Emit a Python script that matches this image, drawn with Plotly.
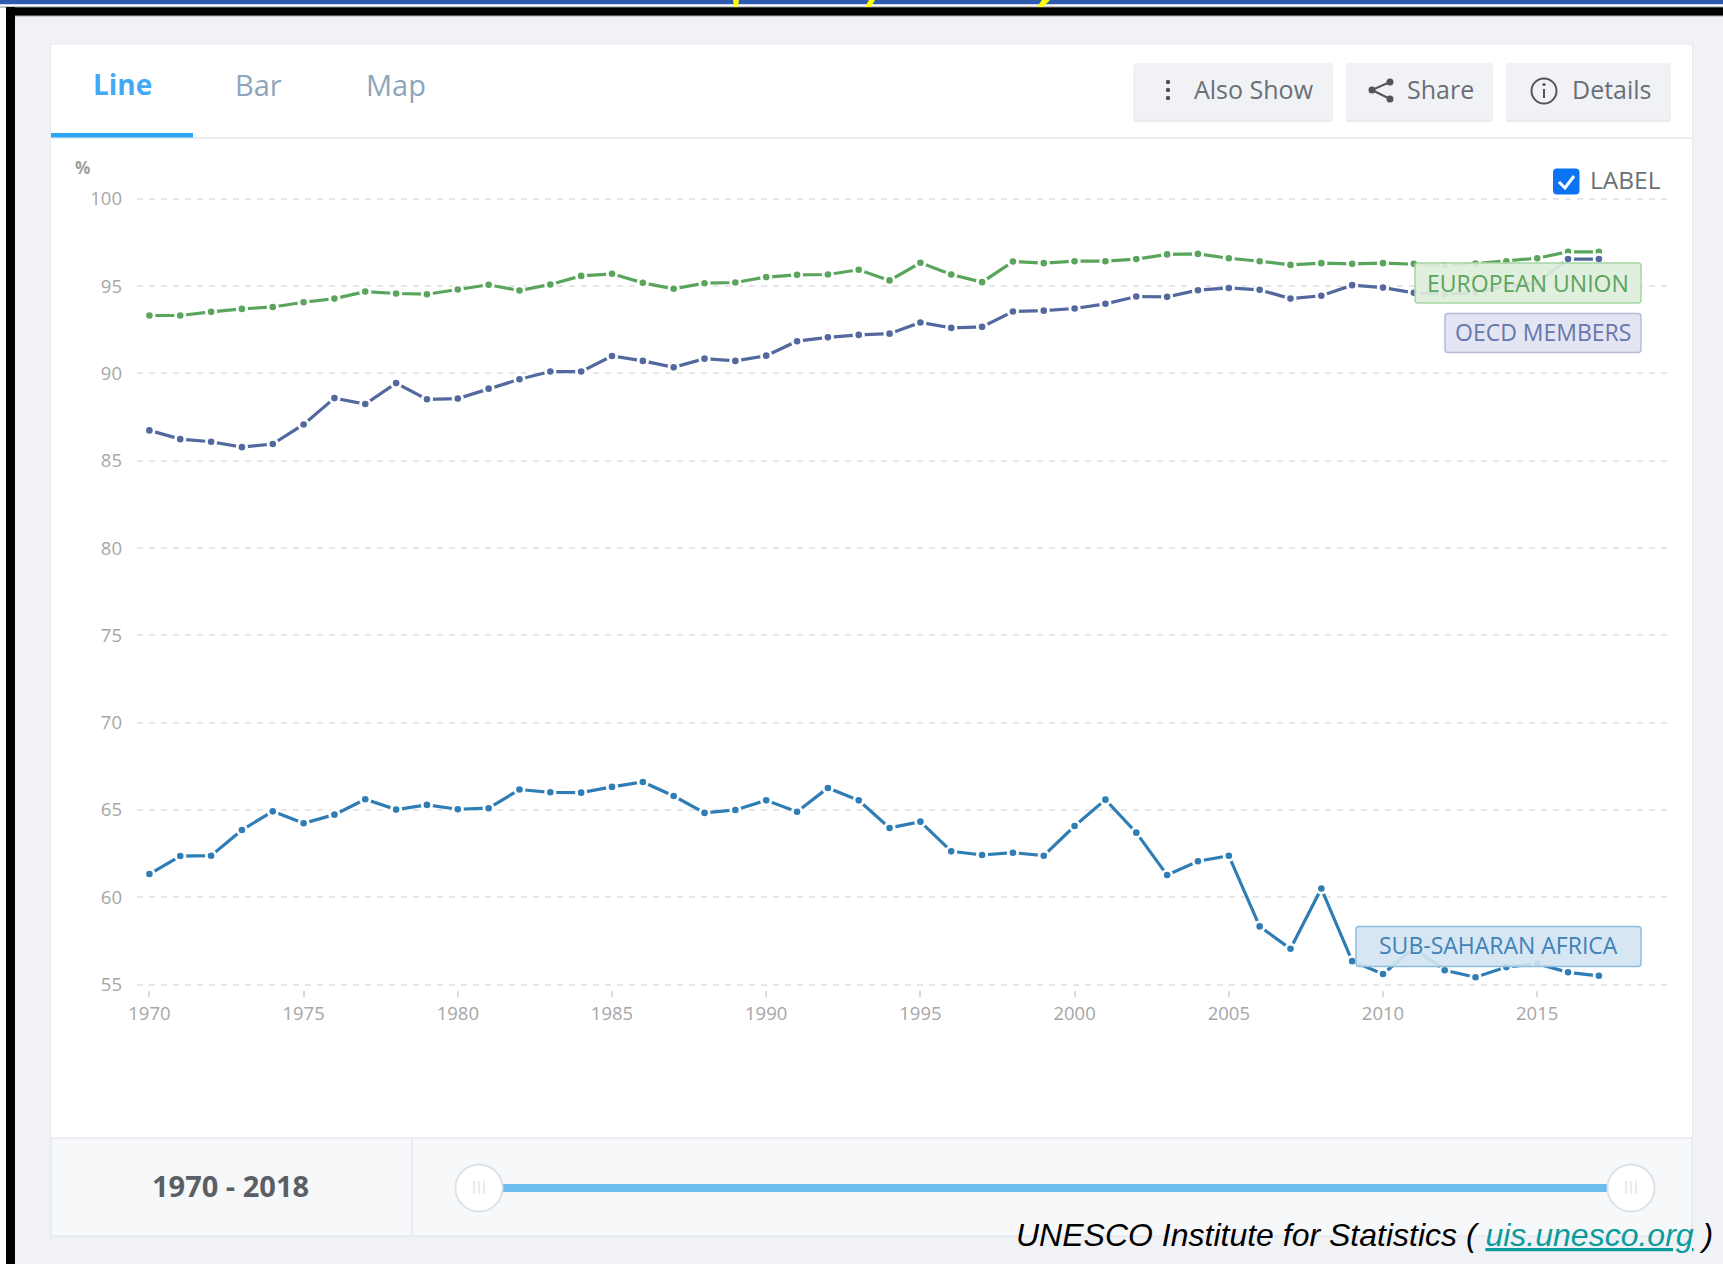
import plotly.graph_objects as go

W, H = 1723, 1264

years = list(range(1970, 2018))
european_union = [93.32, 93.32, 93.53, 93.70, 93.81, 94.08, 94.29, 94.69, 94.58, 94.54, 94.81, 95.08,
                  94.75, 95.10, 95.59, 95.71, 95.19, 94.85, 95.17, 95.21, 95.52, 95.65, 95.67, 95.94,
                  95.33, 96.34, 95.67, 95.23, 96.41, 96.32, 96.43, 96.43, 96.55, 96.82, 96.85, 96.60,
                  96.43, 96.22, 96.32, 96.28, 96.32, 96.28, 96.20, 96.30, 96.43, 96.60, 96.97, 96.97]
oecd_members = [86.74, 86.24, 86.09, 85.78, 85.96, 87.08, 88.59, 88.25, 89.45, 88.52, 88.56, 89.13,
                89.67, 90.11, 90.11, 91.00, 90.72, 90.35, 90.85, 90.72, 91.02, 91.85, 92.07, 92.21,
                92.28, 92.92, 92.61, 92.67, 93.55, 93.60, 93.72, 93.99, 94.41, 94.39, 94.77, 94.90,
                94.79, 94.29, 94.45, 95.06, 94.92, 94.62, 94.54, 94.62, 95.00, 95.19, 96.55, 96.55]
sub_saharan_africa = [61.33, 62.36, 62.38, 63.85, 64.92, 64.24, 64.73, 65.61, 65.02, 65.29, 65.04, 65.10,
                      66.17, 66.01, 65.99, 66.32, 66.60, 65.80, 64.83, 65.00, 65.55, 64.90, 66.26, 65.55,
                      63.97, 64.33, 62.63, 62.42, 62.55, 62.38, 64.08, 65.59, 63.70, 61.27, 62.06, 62.38,
                      58.33, 57.05, 60.50, 56.34, 55.60, 57.10, 55.82, 55.42, 56.00, 56.20, 55.70, 55.50]
x_ticks = list(range(1970, 2016, 5))
y_ticks = list(range(55, 101, 5))

GREEN, NAVY, BLUE = "#5aa55c", "#52689f", "#2e7db5"
FONT = "Open Sans"

def px(x): return x / W
def py(y): return 1 - y / H

shapes, annos = [], []

def rect(x0, y0, x1, y1, fill, line=None, lw=1, layer="below", r=0):
    if r:
        p = (f"M{px(x0+r)},{py(y0)} L{px(x1-r)},{py(y0)} Q{px(x1)},{py(y0)} {px(x1)},{py(y0+r)} "
             f"L{px(x1)},{py(y1-r)} Q{px(x1)},{py(y1)} {px(x1-r)},{py(y1)} "
             f"L{px(x0+r)},{py(y1)} Q{px(x0)},{py(y1)} {px(x0)},{py(y1-r)} "
             f"L{px(x0)},{py(y0+r)} Q{px(x0)},{py(y0)} {px(x0+r)},{py(y0)} Z")
        shapes.append(dict(type="path", path=p, xref="paper", yref="paper", fillcolor=fill,
                           line=dict(color=line or "rgba(0,0,0,0)", width=lw if line else 0), layer=layer))
    else:
        shapes.append(dict(type="rect", x0=px(x0), x1=px(x1), y0=py(y0), y1=py(y1), xref="paper", yref="paper",
                           fillcolor=fill, line=dict(color=line or "rgba(0,0,0,0)", width=lw if line else 0), layer=layer))

def circle(cx, cy, r, fill, line=None, lw=1, layer="below"):
    shapes.append(dict(type="circle", x0=px(cx-r), x1=px(cx+r), y0=py(cy-r), y1=py(cy+r), xref="paper", yref="paper",
                       fillcolor=fill, line=dict(color=line or "rgba(0,0,0,0)", width=lw if line else 0), layer=layer))

def seg(x0, y0, x1, y1, color, lw=1, layer="below"):
    shapes.append(dict(type="line", x0=px(x0), x1=px(x1), y0=py(y0), y1=py(y1), xref="paper", yref="paper",
                       line=dict(color=color, width=lw), layer=layer))

def poly(points, fill, layer="below", line=None, lw=0):
    p = "M" + " L".join(f"{px(a)},{py(b)}" for a, b in points) + " Z"
    shapes.append(dict(type="path", path=p, xref="paper", yref="paper", fillcolor=fill,
                       line=dict(color=line or "rgba(0,0,0,0)", width=lw), layer=layer))

def text(x, y, s, size, color, anchor="left", family=FONT):
    annos.append(dict(x=px(x), y=py(y), xref="paper", yref="paper", text=s, showarrow=False,
                      xanchor=anchor, yanchor="middle", borderpad=0,
                      font=dict(family=family, size=size, color=color)))

# page frame
rect(0, 0, W, 4.2, "#2f5ab0")
rect(6, 7, W, 16, "#000000")
seg(0, 7, W, 7, "#8a8a8a", 1)
rect(6, 7, 15, H, "#000000")
rect(15, 16, W, H, "#f0f2f6")
seg(15, 16, W, 16, "#a8a8a8", 1)
for a, b, c, d in [(733, 739, 734, 738), (869, 875, 865, 871), (1042, 1050, 1037, 1043)]:
    poly([(a, 0), (b, 0), (d, 7), (c, 7)], "#ffff00")

# card
rect(50.5, 44, 1692.5, 1237, "#ffffff", "#e6e9ee", 1)
seg(51, 138, 1692, 138, "#e3e8ec", 1.5)
rect(51, 133, 193, 137.5, "#2ba6f6")
text(122, 84, "<b>Line</b>", 28, "#41a9f5", "center")
text(258, 84, "Bar", 29, "#8ea6ba", "center")
text(396, 84, "Map", 29, "#8ea6ba", "center")

# buttons
for x0, x1 in [(1133, 1333), (1346, 1493), (1506, 1671)]:
    rect(x0, 64, x1, 122, "#e9ebef", r=3)
    rect(x0, 63, x1, 119.5, "#f0f2f6", r=3)
for cy in (82, 90, 98):
    circle(1168, cy, 2.2, "#555555")
text(1193, 89, "Also Show", 25, "#6a6f75")
for a, b in [((1390, 82), (1372, 90)), ((1372, 90), (1390, 99))]:
    seg(a[0], a[1], b[0], b[1], "#555555", 2)
for c in [(1390, 82), (1372, 90), (1390, 99)]:
    circle(c[0], c[1], 3.5, "#555555")
text(1406, 89, "Share", 25, "#6a6f75")
circle(1544, 91, 12.5, "rgba(0,0,0,0)", "#555555", 2)
circle(1544, 84.5, 1.6, "#555555")
seg(1544, 89, 1544, 98, "#555555", 2)
text(1571, 89, "Details", 25, "#6a6f75")

# label checkbox
rect(1553, 168.5, 1579.5, 194.5, "#0a74f5", r=4)
poly([(1559, 182), (1565, 188), (1574, 176), (1565, 188)], "rgba(0,0,0,0)", line="#ffffff", lw=3)
text(1589, 179.5, "LABEL", 24.5, "#6a6f75")

# axis unit
text(82, 167.5, "<b>%</b>", 17, "#a0a0a0", "center")

# bottom panel
rect(51, 1138, 1692, 1236, "#f7f8fa", "#e6e9ee", 1.5)
seg(412, 1138, 412, 1236, "#e6e9ee", 1.5)
text(230, 1185, "<b>1970 - 2018</b>", 29, "#5a5f65", "center")
rect(503, 1184, 1607, 1192, "#6cbcf0")
for cx in (479, 1631):
    circle(cx, 1188, 23.5, "#ffffff", "#dde3e8", 2)
    for dx in (-5, 0, 5):
        seg(cx + dx, 1181, cx + dx, 1194, "#d5d8dc", 1)

# series labels: painted over the lines
rect(1415, 263, 1641, 303, "rgba(222,238,219,0.92)", "#a6d6a2", 1.5, layer="above", r=3)
rect(1445, 313.5, 1641, 352.5, "rgba(225,228,241,0.95)", "#b6bbd8", 1.5, layer="above", r=3)
rect(1356, 926.5, 1641, 966.5, "rgba(210,228,241,0.92)", "#8fbde0", 1.5, layer="above", r=3)
text(1528, 282.5, "EUROPEAN UNION", 23, GREEN, "center")
text(1542.5, 332, "OECD MEMBERS", 23, "#6677ad", "center")
text(1498.5, 945, "SUB-SAHARAN AFRICA", 23, "#3f82b8", "center")

# source line
annos.append(dict(x=px(1015), y=py(1235), xref="paper", yref="paper", showarrow=False, xanchor="left",
                  yanchor="middle", borderpad=0,
                  text="<i>UNESCO Institute for Statistics ( <span style='fill:#0a9c9c;text-decoration:underline'>uis.unesco.org</span> )</i>",
                  font=dict(family="Liberation Sans", size=32, color="#000000")))

fig = go.Figure()
for name, vals, col in [("Sub-Saharan Africa", sub_saharan_africa, BLUE),
                        ("European Union", european_union, GREEN),
                        ("OECD members", oecd_members, NAVY)]:
    fig.add_trace(go.Scatter(x=years, y=vals, name=name, mode="lines+markers",
                             line=dict(color=col, width=3.2),
                             marker=dict(color=col, size=9.4, line=dict(color="#ffffff", width=2.8))))

fig.update_layout(
    width=W, height=H, autosize=False, margin=dict(l=0, r=0, t=0, b=0, pad=0, autoexpand=False),
    paper_bgcolor="#ffffff", plot_bgcolor="rgba(0,0,0,0)", showlegend=False,
    font=dict(family=FONT), shapes=shapes, annotations=annos,
    xaxis=dict(domain=[px(137), px(1672)], range=[1970 - (149.4 - 137) / 30.84, 1970 + (1672 - 149.4) / 30.84],
               automargin=False,
               tickmode="array", tickvals=x_ticks, ticktext=[str(v) for v in x_ticks],
               showgrid=False, zeroline=False, showline=False, ticks="outside", ticklen=6, tickwidth=1.5,
               tickcolor="#dcdcdc", tickfont=dict(size=18.5, color="#a6a6a6"), anchor="y"),
    yaxis=dict(domain=[py(990.3), py(195.4)], range=[54.67, 100.2],
               automargin=False,
               tickmode="array", tickvals=y_ticks, ticktext=[str(v) for v in y_ticks],
               showgrid=True, griddash="6px,6px", gridcolor="#e6e6e6", gridwidth=1.5,
               zeroline=False, showline=False, ticks="", ticklabelstandoff=14,
               tickfont=dict(size=18.5, color="#a6a6a6"), anchor="x"),
)

POST = "document.documentElement.style.margin='0';document.body.style.margin='0';document.body.style.overflow='hidden';"
fig.write_html("out.html", config=dict(displayModeBar=False), post_script=POST)
